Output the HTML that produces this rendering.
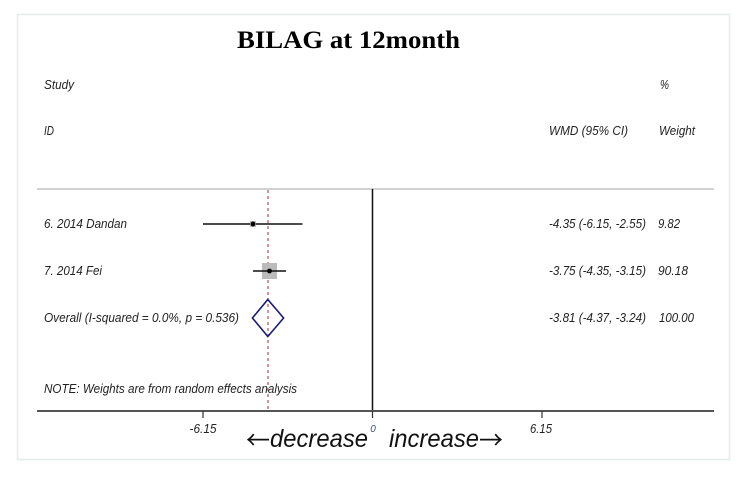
<!DOCTYPE html>
<html>
<head>
<meta charset="utf-8">
<style>
  html,body{margin:0;padding:0;background:#fff;}
  svg{display:block;}
  .t{font-family:"Liberation Sans",sans-serif;font-style:italic;font-size:12.5px;fill:#222;}
  .arr{font-family:"Noto Sans CJK JP","DejaVu Sans",sans-serif;font-size:25px;fill:#111;}
</style>
</head>
<body>
<svg width="750" height="477" viewBox="0 0 750 477" xmlns="http://www.w3.org/2000/svg">
  <rect x="0" y="0" width="750" height="477" fill="#fff"/>
  <rect x="17.5" y="14.5" width="712" height="445" fill="none" stroke="#e4eded" stroke-width="1.5"/>

  <!-- Title -->
  <text x="237" y="48" font-family="'Liberation Serif',serif" font-weight="bold" font-size="25" textLength="223" lengthAdjust="spacingAndGlyphs" fill="#000">BILAG at 12month</text>

  <!-- Headers -->
  <text class="t" x="44" y="89" textLength="30" lengthAdjust="spacingAndGlyphs">Study</text>
  <text class="t" x="44" y="135" textLength="10" lengthAdjust="spacingAndGlyphs">ID</text>
  <text class="t" x="660" y="89" textLength="9" lengthAdjust="spacingAndGlyphs">%</text>
  <text class="t" x="549" y="135" textLength="79" lengthAdjust="spacingAndGlyphs">WMD (95% CI)</text>
  <text class="t" x="659" y="135" textLength="36" lengthAdjust="spacingAndGlyphs">Weight</text>

  <!-- separator -->
  <line x1="37" y1="189" x2="714" y2="189" stroke="#d2d2d2" stroke-width="2"/>

  <!-- zero line -->
  <line x1="372.5" y1="189" x2="372.5" y2="411" stroke="#111" stroke-width="1.5"/>
  <!-- overall dashed -->
  <line x1="268" y1="190" x2="268" y2="411" stroke="#b0505c" stroke-width="1.2" stroke-dasharray="3,3"/>

  <!-- Row 1 -->
  <text class="t" x="44" y="228" textLength="83" lengthAdjust="spacingAndGlyphs">6. 2014 Dandan</text>
  <line x1="203" y1="224" x2="302.5" y2="224" stroke="#111" stroke-width="1.5"/>
  <rect x="250" y="221" width="6" height="6" fill="#bbb"/>
  <circle cx="253" cy="224" r="2.4" fill="#000"/>
  <text class="t" x="549" y="228" textLength="97" lengthAdjust="spacingAndGlyphs">-4.35 (-6.15, -2.55)</text>
  <text class="t" x="658" y="228" textLength="22" lengthAdjust="spacingAndGlyphs">9.82</text>

  <!-- Row 2 -->
  <text class="t" x="44" y="275" textLength="58" lengthAdjust="spacingAndGlyphs">7. 2014 Fei</text>
  <rect x="262" y="263" width="15" height="16" fill="#bbb"/>
  <line x1="253" y1="271" x2="286" y2="271" stroke="#111" stroke-width="1.5"/>
  <circle cx="269.5" cy="271" r="2.4" fill="#000"/>
  <text class="t" x="549" y="275" textLength="97" lengthAdjust="spacingAndGlyphs">-3.75 (-4.35, -3.15)</text>
  <text class="t" x="658" y="275" textLength="30" lengthAdjust="spacingAndGlyphs">90.18</text>

  <!-- Overall -->
  <text class="t" x="44" y="322" textLength="195" lengthAdjust="spacingAndGlyphs">Overall  (I-squared = 0.0%, p = 0.536)</text>
  <polygon points="252.4,318 267.8,299.5 283.6,318 267.8,336.5" fill="none" stroke="#1c1c78" stroke-width="1.6"/>
  <text class="t" x="549" y="322" textLength="97" lengthAdjust="spacingAndGlyphs">-3.81 (-4.37, -3.24)</text>
  <text class="t" x="659" y="322" textLength="35" lengthAdjust="spacingAndGlyphs">100.00</text>

  <!-- Note -->
  <text class="t" x="44" y="393" textLength="253" lengthAdjust="spacingAndGlyphs">NOTE: Weights are from random effects analysis</text>

  <!-- Axis -->
  <line x1="37" y1="411" x2="714" y2="411" stroke="#555" stroke-width="2"/>
  <line x1="203" y1="411" x2="203" y2="418" stroke="#333" stroke-width="1.2"/>
  <line x1="372.5" y1="411" x2="372.5" y2="418" stroke="#333" stroke-width="1.2"/>
  <line x1="542" y1="411" x2="542" y2="418" stroke="#333" stroke-width="1.2"/>
  <text class="t" x="203" y="433" text-anchor="middle" textLength="27" lengthAdjust="spacingAndGlyphs">-6.15</text>
  <text x="373" y="432" text-anchor="middle" font-family="'Liberation Sans',sans-serif" font-style="italic" font-size="10" fill="#3d4f7a">0</text>
  <text class="t" x="541" y="433" text-anchor="middle" textLength="22" lengthAdjust="spacingAndGlyphs">6.15</text>

  <!-- direction labels -->
  <text class="arr" x="246" y="449" textLength="24" lengthAdjust="spacingAndGlyphs">←</text>
  <text x="270" y="447" font-family="'Liberation Sans',sans-serif" font-style="italic" font-size="25" textLength="98" lengthAdjust="spacingAndGlyphs" fill="#111">decrease</text>
  <text x="389" y="447" font-family="'Liberation Sans',sans-serif" font-style="italic" font-size="25" textLength="90" lengthAdjust="spacingAndGlyphs" fill="#111">increase</text>
  <text class="arr" x="479" y="449" textLength="24" lengthAdjust="spacingAndGlyphs">→</text>
</svg>
</body>
</html>
